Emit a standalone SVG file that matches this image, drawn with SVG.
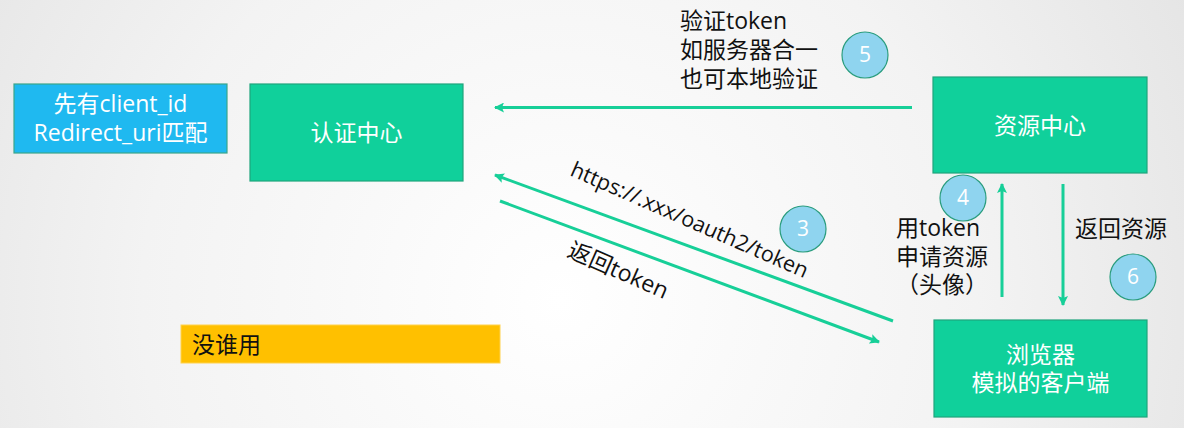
<svg xmlns="http://www.w3.org/2000/svg" width="1184" height="428" viewBox="0 0 1184 428">
<defs>
<radialGradient id="bg" cx="560" cy="300" r="760" gradientUnits="userSpaceOnUse">
<stop offset="0" stop-color="#ffffff"/>
<stop offset="0.55" stop-color="#f3f3f3"/>
<stop offset="1" stop-color="#e2e2e2"/>
</radialGradient>
<marker id="ah" markerWidth="10" markerHeight="10" viewBox="0 0 10 10" refX="9" refY="5" orient="auto" markerUnits="userSpaceOnUse">
<path d="M0,0 L10,5 L0,10 L2,5 Z" fill="#17cf98"/>
</marker>
</defs>
<style>
.box{fill:#10d09b;stroke:#1fa57c;stroke-width:1.2}
.wt{fill:#ffffff;font-family:"Open Sans","Noto Sans CJK SC",sans-serif;font-size:23px}
.bk{fill:#111111;font-family:"Open Sans","Noto Sans CJK SC",sans-serif;font-size:23px}
.ln{stroke:#17cf98;stroke-width:3;fill:none}
.num{fill:#8fd4ef;stroke:#2a9d7e;stroke-width:1.2}
.nt{fill:#ffffff;font-family:"Open Sans",sans-serif;font-size:21px;text-anchor:middle}
</style>
<rect width="1184" height="428" fill="url(#bg)"/>

<g id="connectors">
<line class="ln" x1="912" y1="107.5" x2="495" y2="107.5" marker-end="url(#ah)"/>
<line class="ln" x1="893" y1="321" x2="495" y2="175" marker-end="url(#ah)"/>
<line class="ln" x1="500" y1="201" x2="879" y2="342" marker-end="url(#ah)"/>
<line class="ln" x1="1002" y1="297" x2="1002" y2="184" marker-end="url(#ah)"/>
<line class="ln" x1="1063" y1="184" x2="1063" y2="305" marker-end="url(#ah)"/>
<text class="bk" style="font-size:21.5px" transform="translate(569,175) rotate(23.7)">https://.xxx/oauth2/token</text>
<text class="bk" transform="translate(566,256) rotate(23.7)">返回token</text>
<text class="bk" x="680" y="29">验证token</text>
<text class="bk" x="680" y="58">如服务器合一</text>
<text class="bk" x="680" y="87">也可本地验证</text>
<text class="bk" x="896" y="236">用token</text>
<text class="bk" x="896" y="265">申请资源</text>
<text class="bk" x="896" y="293">（头像）</text>
<text class="bk" x="1075" y="237">返回资源</text>
</g>

<g id="note-client">
<rect x="14" y="84" width="213" height="69" fill="#1fb9f0" stroke="#3aa58a" stroke-width="1.2"/>
<text class="wt" x="120.5" y="112" text-anchor="middle">先有client_id</text>
<text class="wt" x="120.5" y="141" text-anchor="middle">Redirect_uri匹配</text>
</g>

<g id="auth-center">
<rect class="box" x="250" y="84" width="213" height="97"/>
<text class="wt" x="356.5" y="141" text-anchor="middle">认证中心</text>
</g>

<g id="resource-center">
<rect class="box" x="933" y="77" width="214" height="96"/>
<text class="wt" x="1040" y="134" text-anchor="middle">资源中心</text>
</g>

<g id="browser">
<rect class="box" x="934" y="320" width="213" height="97"/>
<text class="wt" x="1040.5" y="363" text-anchor="middle">浏览器</text>
<text class="wt" x="1040.5" y="391" text-anchor="middle">模拟的客户端</text>
</g>

<g id="note-unused">
<rect x="181" y="325" width="319" height="38" fill="#ffc000" stroke="#ffd24d" stroke-width="1"/>
<text class="bk" x="192" y="353">没谁用</text>
</g>

<g id="step5"><circle class="num" cx="865" cy="55" r="23"/><text class="nt" x="865" y="62">5</text></g>
<g id="step3"><circle class="num" cx="803" cy="229" r="23"/><text class="nt" x="803" y="236">3</text></g>
<g id="step4"><circle class="num" cx="963" cy="198" r="23"/><text class="nt" x="963" y="205">4</text></g>
<g id="step6"><circle class="num" cx="1133" cy="277" r="23"/><text class="nt" x="1133" y="284">6</text></g>
</svg>
